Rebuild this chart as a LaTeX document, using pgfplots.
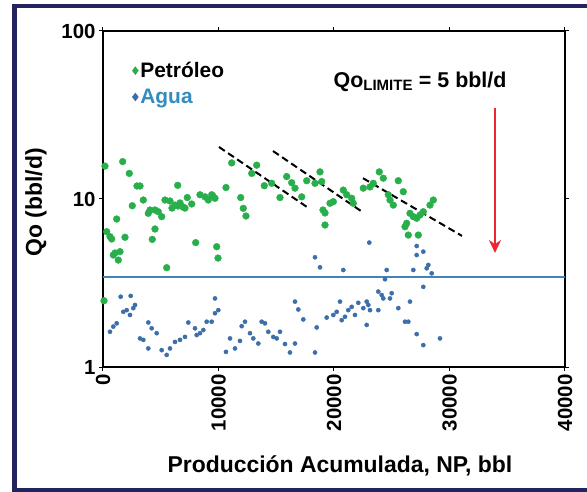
\documentclass[border=0pt]{standalone}
\usepackage{pgfplots}
\pgfplotsset{compat=1.18}
\usepackage{pgfplotstable}
\usepackage{fontspec}
\setmainfont{Liberation Sans}
\usetikzlibrary{arrows.meta}
\definecolor{oilgreen}{RGB}{40,175,75}
\definecolor{waterblue}{RGB}{60,110,170}
\definecolor{lineblue}{RGB}{70,130,185}
\definecolor{aguatext}{RGB}{50,140,190}
\definecolor{arrowred}{RGB}{235,40,50}
\definecolor{framenavy}{RGB}{35,35,95}

\pgfplotstableread{
x y
173 15.7
1706 16.7
2277 14.2
2944 11.95
3203 11.95
6468 12.06
3489 9.86
2537 9.12
5368 9.86
5801 9.73
6234 9.2
6667 9.47
6926 8.96
5974 8.83
6494 9.09
7100 8.83
7299 10.2
7680 9.34
8398 10.6
8831 10.3
9117 9.86
9411 10.6
4069 8.6
3922 8.22
4502 8.6
4788 8.4
5082 7.85
1186 7.6
4502 6.63
320 6.39
606 5.97
753 5.78
1905 5.92
4268 5.75
8026 5.5
1039 4.77
1472 4.86
892 4.64
1325 4.33
5515 3.9
9844 5.2
9957 4.45
87 2.48
11143 16.4
13308 15.9
12875 14.2
13966 12.0
14606 12.4
15905 13.6
16338 12.5
16623 11.6
15325 10.2
17204 10.3
17637 12.85
18355 12.4
18788 14.5
10649 11.7
9524 10.4
9697 10.1
11922 10.2
12147 8.8
12381 7.92
19048 8.6
19221 8.26
19221 7.0
18935 12.7
20805 11.3
21100 10.6
21532 10.1
21671 9.43
19939 9.64
19654 9.43
22537 11.6
23117 11.8
23403 12.4
23922 14.5
24268 13.3
24701 10.6
24848 9.86
25134 9.2
25567 12.85
26000 11.05
26580 8.22
26866 7.85
27160 7.68
27446 8.03
27732 8.4
28598 9.86
28312 9.2
26294 7.17
26147 6.84
26433 6.1
27299 6.1
}\oildata

\pgfplotstableread{
x y
1532 2.62
2398 2.65
2771 2.34
2623 2.24
1758 2.13
2052 2.18
2338 2.04
1186 1.82
892 1.74
606 1.62
3922 1.84
4216 1.70
4649 1.59
3203 1.48
3489 1.45
3922 1.29
5082 1.26
5515 1.18
5801 1.29
6234 1.41
6667 1.45
7100 1.51
7385 1.84
7965 1.70
8398 1.59
8978 1.86
9411 1.86
8113 1.55
8684 1.66
9697 2.56
9983 2.18
9697 2.09
12294 1.86
12008 1.75
13740 1.86
14026 1.82
12727 1.59
13013 1.48
13446 1.38
14312 1.62
14745 1.51
15039 1.48
15325 1.62
15758 1.37
16623 1.38
16190 1.22
10996 1.48
11861 1.43
11428 1.29
10649 1.23
16623 2.45
16909 2.2
17342 1.92
18502 1.72
18355 1.22
19368 1.97
18355 4.5
18788 3.92
23056 5.5
27160 5.25
27732 4.86
27160 4.64
28165 4.05
28026 3.87
20805 3.78
24563 3.78
26866 3.78
28459 3.61
24415 3.33
27732 3.0
23836 2.81
24130 2.68
24268 2.56
24996 2.75
24848 2.56
26580 2.45
22104 2.41
21532 2.28
21238 2.18
22831 2.45
22970 2.34
22537 2.24
23117 2.18
23836 2.18
25567 2.24
20234 2.13
19939 2.04
20952 1.99
20666 1.90
21818 2.04
26147 1.86
26433 1.86
22831 1.78
27160 1.57
29177 1.48
27732 1.35
20519 2.45
}\waterdata

\begin{document}
\begin{tikzpicture}
\begin{axis}[
  at={(0,0)}, anchor=south west,
  scale only axis, width=462bp, height=336bp,
  xmin=0, xmax=40000, ymin=1, ymax=100, ymode=log,
  xtick={0,10000,20000,30000,40000},
  scaled x ticks=false,
  ytick={1,10,100}, yticklabels={1,10,100},
  yminorticks=false,
  axis line style={line width=2bp},
  tick style={black, line width=1bp},
  tick align=outside, major tick length=4bp,
  /pgf/number format/assume math mode=true,
  /pgf/number format/1000 sep={},
  ticklabel style={font=\fontsize{20.5}{24}\selectfont\bfseries},
  xticklabel style={rotate=90, anchor=east},
  xlabel={Producción Acumulada, NP, bbl},
  ylabel={Qo (bbl/d)},
  label style={font=\fontsize{23}{27}\selectfont\bfseries},
  xlabel style={at={(axis description cs:0.513,-0.295)}, anchor=center},
  ylabel style={at={(axis description cs:-0.145,0.49)}, anchor=center},
  legend style={draw=none, fill=none, at={(rel axis cs:0.062,0.915)}, anchor=north west,
    font=\fontsize{21}{24}\selectfont\bfseries, row sep=6bp, inner sep=0.5bp},
  legend cell align=left,
  legend image code/.code={\draw[#1, mark=diamond*, mark size=4bp] plot coordinates {(0.12cm,0cm)};},
]
\addplot[only marks, mark=*, mark size=3.4bp, color=oilgreen] table {\oildata};
\addlegendentry{Petróleo}
\addplot[only marks, mark=*, mark size=2.1bp, color=waterblue] table {\waterdata};
\addlegendentry{\textcolor{aguatext}{Agua}}
\addplot[lineblue, line width=2.2bp, forget plot] coordinates {(0,3.45) (40000,3.45)};
\addplot[black, line width=2bp, dash pattern=on 7bp off 4bp, forget plot] coordinates {(10043,20.4) (17662,8.96)};
\addplot[black, line width=2bp, dash pattern=on 7bp off 4bp, forget plot] coordinates {(14719,19.3) (22338,8.48)};
\addplot[black, line width=2bp, dash pattern=on 7bp off 4bp, forget plot] coordinates {(22511,13.3) (31082,6.03)};
\addplot[arrowred, line width=2.6bp, -{Stealth[length=13bp,width=12bp]}, forget plot] coordinates {(33939,34.8) (33939,4.77)};
\node[font=\fontsize{21.5}{25}\selectfont\bfseries, anchor=east] at (axis cs:35238,49.7) {Qo\textsubscript{LIMITE} = 5 bbl/d};
\end{axis}
\pgfresetboundingbox
\useasboundingbox (-103bp,-125bp) rectangle (484bp,367bp);
\draw[framenavy, line width=4.5bp] (495bp,361bp) -- (-88.5bp,361bp) -- (-88.5bp,-123bp) -- (495bp,-123bp);
\end{tikzpicture}
\end{document}
